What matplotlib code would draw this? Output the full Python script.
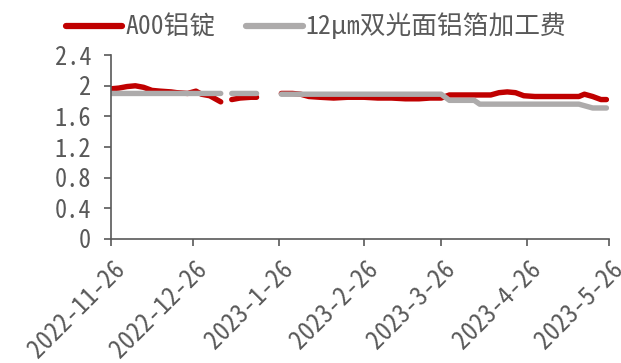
import numpy as np
import pandas as pd
import matplotlib
matplotlib.use("Agg")
import matplotlib.pyplot as plt
import matplotlib.transforms as mtransforms
from matplotlib import font_manager


def pick_family(names):
    for name in names:
        try:
            font_manager.findfont(font_manager.FontProperties(family=name),
                                  fallback_to_default=False)
            return name
        except ValueError:
            continue
    return "DejaVu Sans"


mono_cjk = pick_family(["Noto Sans Mono CJK SC", "Noto Sans Mono CJK JP"])
plt.rcParams['font.family'] = [mono_cjk, 'Noto Sans CJK SC', 'DejaVu Sans']

# 万元/吨, NaN = no quote (holidays)
dates = ["2022-11-26", "2022-11-29", "2022-12-02", "2022-12-05", "2022-12-08",
         "2022-12-11", "2022-12-14", "2022-12-18", "2022-12-20", "2022-12-24",
         "2022-12-27", "2022-12-29", "2023-01-01", "2023-01-03", "2023-01-05",
         "2023-01-07",
         "2023-01-09", "2023-01-12", "2023-01-16", "2023-01-18",
         "2023-01-22",
         "2023-01-27", "2023-01-31", "2023-02-03", "2023-02-06", "2023-02-10",
         "2023-02-15", "2023-02-20", "2023-02-26", "2023-03-03", "2023-03-08",
         "2023-03-13", "2023-03-18", "2023-03-22", "2023-03-26", "2023-03-29",
         "2023-04-03", "2023-04-07", "2023-04-09", "2023-04-13", "2023-04-16",
         "2023-04-19", "2023-04-22", "2023-04-25", "2023-04-29", "2023-05-05",
         "2023-05-10", "2023-05-15", "2023-05-17", "2023-05-20", "2023-05-23",
         "2023-05-25"]

a00_ingot = [1.96, 1.97, 1.99, 2.00, 1.98,
             1.94, 1.93, 1.92, 1.91, 1.90,
             1.93, 1.89, 1.87, 1.83, 1.79,
             np.nan,
             1.82, 1.84, 1.85, 1.85,
             np.nan,
             1.90, 1.90, 1.89, 1.86, 1.85,
             1.84, 1.85, 1.85, 1.84, 1.84,
             1.83, 1.83, 1.84, 1.84, 1.88,
             1.88, 1.88, 1.88, 1.88, 1.91,
             1.92, 1.91, 1.87, 1.86, 1.86,
             1.86, 1.86, 1.89, 1.86, 1.82,
             1.82]

foil_fee = [1.90, 1.90, 1.90, 1.90, 1.90,
            1.90, 1.90, 1.90, 1.90, 1.90,
            1.90, 1.90, 1.90, 1.90, 1.90,
            np.nan,
            1.90, 1.90, 1.90, 1.90,
            np.nan,
            1.89, 1.89, 1.89, 1.89, 1.89,
            1.89, 1.89, 1.89, 1.89, 1.89,
            1.89, 1.89, 1.89, 1.89, 1.81,
            1.81, 1.81, 1.76, 1.76, 1.76,
            1.76, 1.76, 1.76, 1.76, 1.76,
            1.76, 1.76, 1.74, 1.71, 1.71,
            1.71]

x_ticks = ["2022-11-26", "2022-12-26", "2023-01-26", "2023-02-26",
           "2023-03-26", "2023-04-26", "2023-05-26"]
y_ticks = [0, 0.4, 0.8, 1.2, 1.6, 2, 2.4]

x = pd.to_datetime(dates)
tick_dates = pd.to_datetime(x_ticks)

red = "#C00000"
grey = "#ADABAB"
axis_col = "#595959"

fig = plt.figure(figsize=(6.21, 3.63), dpi=100)
ax = fig.add_axes([0.178, 0.342, 0.803, 0.506])

ax.plot(x, a00_ingot, color=red, lw=3.9, solid_capstyle="round",
        solid_joinstyle="round", label="A00铝锭")
ax.plot(x, foil_fee, color=grey, lw=3.9, solid_capstyle="round",
        solid_joinstyle="round", label="12μm双光面铝箔加工费")

ax.set_xlim(tick_dates[0], tick_dates[-1])
ax.set_ylim(0, 2.4)
ax.set_yticks(y_ticks)
ax.set_yticklabels([f"{v:g}" for v in y_ticks])
ax.set_xticks(tick_dates)
ax.set_xticklabels([f"{d.year}-{d.month}-{d.day}" for d in tick_dates],
                   rotation=45, ha="right", rotation_mode="anchor")

for s in ["top", "right"]:
    ax.spines[s].set_visible(False)
for s in ["left", "bottom"]:
    ax.spines[s].set_color(axis_col)
    ax.spines[s].set_linewidth(1.2)
ax.tick_params(axis="both", colors=axis_col, length=5, width=1.2)
ax.tick_params(axis="y", pad=9, labelsize=17.5)
ax.tick_params(axis="x", pad=8, labelsize=18)

# nudge the slanted date labels a little to the right of their ticks
shift = mtransforms.ScaledTranslation(2 / 100, 0, fig.dpi_scale_trans)
for lbl in ax.get_xticklabels():
    lbl.set_transform(lbl.get_transform() + shift)

fig.legend(loc="center left", bbox_to_anchor=(0.085, 0.928), ncol=2, frameon=False,
           fontsize=18.5, handlelength=2.2, handletextpad=0.12,
           columnspacing=1.2, labelcolor=axis_col, borderpad=0)
for line in fig.legends[0].get_lines():
    line.set_linewidth(4.5)

fig.savefig("out.png", dpi=100)
